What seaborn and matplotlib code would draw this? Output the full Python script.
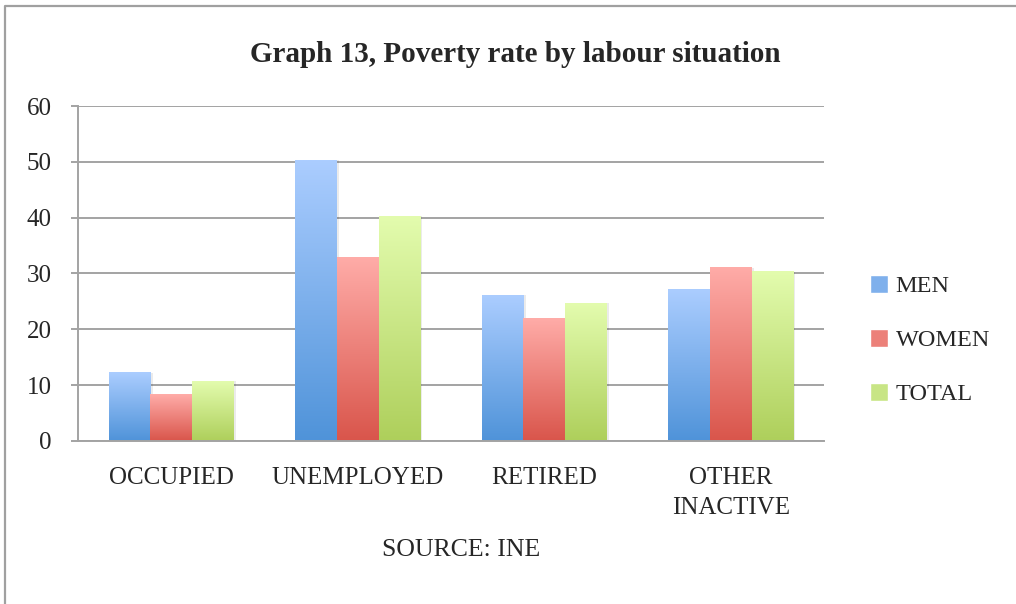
import numpy as np
import pandas as pd
import seaborn as sns
import matplotlib.pyplot as plt
from matplotlib.colors import LinearSegmentedColormap
from matplotlib.patches import Patch, Rectangle
from matplotlib.lines import Line2D

# values
categories = ["OCCUPIED", "UNEMPLOYED", "RETIRED", "OTHER\nINACTIVE"]
groups = ["MEN", "WOMEN", "TOTAL"]
men = [12.2, 50.3, 26.1, 27.2]
women = [8.4, 32.8, 21.9, 31.0]
total = [10.7, 40.3, 24.7, 30.3]

df = pd.DataFrame({
    "situation": categories * 3,
    "group": ["MEN"] * 4 + ["WOMEN"] * 4 + ["TOTAL"] * 4,
    "rate": men + women + total,
})

# (bottom, top) colours of the gradient fill
grads = [("#4f93d9", "#abcdff"), ("#d9554b", "#ffaca8"), ("#aecf5b", "#e3fcae")]
mids = ["#7fb0ec", "#ec8079", "#c8e585"]

sns.set_style("white")
plt.rcParams['font.family'] = ['Liberation Serif', 'DejaVu Serif']

fig = plt.figure(figsize=(10.16, 6.04), dpi=100)
ax = fig.add_axes([0.0768, 0.270, 0.7342, 0.5545])

sns.barplot(data=df, x="situation", y="rate", hue="group", hue_order=groups,
            palette=mids, width=0.67, gap=0, saturation=1, legend=False, ax=ax)

# repaint each bar with a vertical gradient
for cont, (bot, top) in zip(ax.containers, grads):
    cmap = LinearSegmentedColormap.from_list("g", [bot, top])
    for bar in cont:
        x0, w, h = bar.get_x(), bar.get_width(), bar.get_height()
        ax.add_patch(Rectangle((x0 + 0.012, 0), w, h, facecolor="#000000",
                               alpha=0.08, lw=0, zorder=1.5))
        ax.imshow(np.linspace(0, 1, 256).reshape(-1, 1), cmap=cmap, origin="lower",
                  extent=[x0, x0 + w, 0, h], aspect="auto", zorder=2)
        bar.set_visible(False)

ax.set_xlim(-0.5, 3.5)
ax.set_ylim(0, 60)
ax.set_yticks(range(0, 61, 10))
ax.set_xlabel("")
ax.set_ylabel("")
ax.set_axisbelow(True)
ax.yaxis.grid(True, color="#a3a3a3", lw=1.4)

for side in ["top", "right"]:
    ax.spines[side].set_visible(False)
for side in ["left", "bottom"]:
    ax.spines[side].set_color("#a3a3a3")
    ax.spines[side].set_linewidth(1.4)

ax.set_xticks([-0.5, 0.5, 1.5, 2.5, 3.5], minor=True)
ax.tick_params(axis="x", which="major", length=0, pad=19, labelsize=18)
ax.tick_params(axis="x", which="minor", length=6, width=1.4, color="#a3a3a3", direction="out")
ax.tick_params(axis="y", length=5, width=1.4, color="#a3a3a3", pad=14, labelsize=18, left=True)
for lbl in ax.get_xticklabels():
    lbl.set_linespacing(1.45)

handles = [Patch(facecolor=c) for c in mids]
fig.legend(handles, groups, loc="center left", bbox_to_anchor=(0.835, 0.437),
           frameon=False, fontsize=17.5, handlelength=0.75, handleheight=0.75,
           handletextpad=0.3, labelspacing=1.3)

fig.text(0.507, 1 - 55 / 604, "Graph 13, Poverty rate by labour situation",
         ha="center", va="center", fontsize=21, fontweight="bold")
fig.text(461 / 1016, 1 - 550 / 604, "SOURCE: INE", ha="center", va="center", fontsize=18.5)

# frame: only top and left edges are visible in the reference
fig.add_artist(Line2D([5 / 1016, 5 / 1016, 1.0], [0.0, 1 - 6 / 604, 1 - 6 / 604],
                      transform=fig.transFigure, color="#a0a0a0", lw=1.6))

plt.savefig("out.png", dpi=100)
